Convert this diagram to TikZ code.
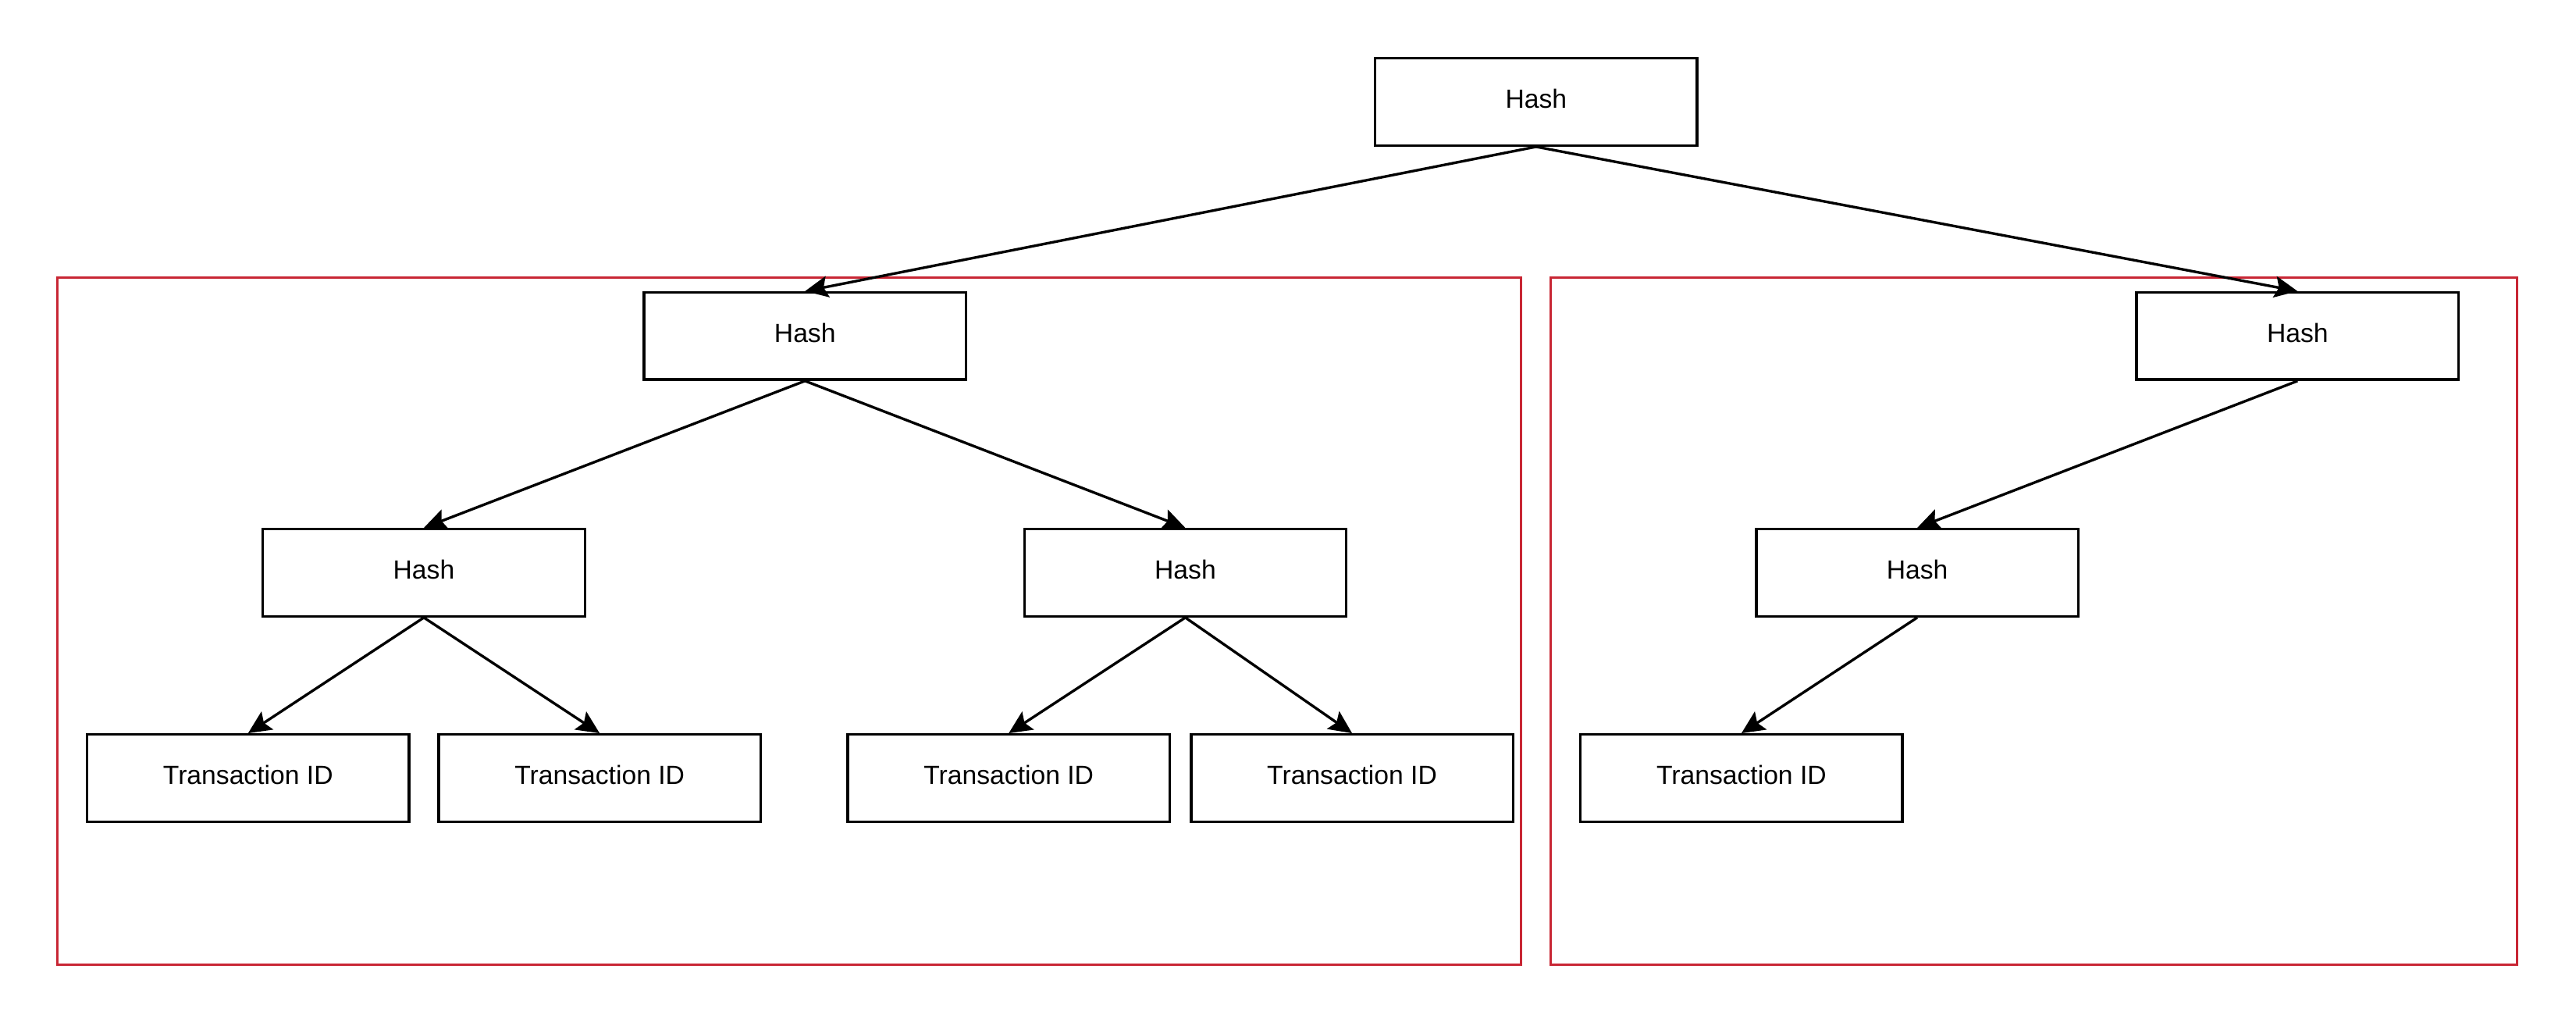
\documentclass[tikz,border=0pt]{standalone}
\usepackage{fontspec}
\setmainfont{Liberation Sans}
\usetikzlibrary{arrows.meta}
\definecolor{groupred}{RGB}{200,38,52}
\begin{document}
\begin{tikzpicture}[x=1pt,y=-1pt,
  box/.style={draw=black,line width=1.6pt,fill=white,minimum width=196pt,minimum height=53pt,inner sep=0pt,text height=11.6pt,text depth=4pt,font=\fontsize{16}{19}\selectfont},
  group/.style={draw=groupred,line width=1.5pt},
  link/.style={draw=black,line width=1.6pt,-{Stealth[length=14pt,width=13pt,inset=2.5pt]}}]
\useasboundingbox (0,0) rectangle (1568,624);
\draw[group] (35,169) rectangle (926,587);
\draw[group] (944,169) rectangle (1532,587);
\node[box] (top) at (935,62) {Hash};
\node[box] (l1) at (490,204.5) {Hash};
\node[box] (r1) at (1398.5,204.5) {Hash};
\node[box] (l2a) at (258,348.5) {Hash};
\node[box] (l2b) at (721.5,348.5) {Hash};
\node[box] (r2) at (1167,348.5) {Hash};
\node[box] (t1) at (151,473.5) {Transaction ID};
\node[box] (t2) at (365,473.5) {Transaction ID};
\node[box] (t3) at (614,473.5) {Transaction ID};
\node[box] (t4) at (823,473.5) {Transaction ID};
\node[box] (t5) at (1060,473.5) {Transaction ID};
\draw[link] (top.south) -- (l1.north);
\draw[link] (top.south) -- (r1.north);
\draw[link] (l1.south) -- (l2a.north);
\draw[link] (l1.south) -- (l2b.north);
\draw[link] (r1.south) -- (r2.north);
\draw[link] (l2a.south) -- (t1.north);
\draw[link] (l2a.south) -- (t2.north);
\draw[link] (l2b.south) -- (t3.north);
\draw[link] (l2b.south) -- (t4.north);
\draw[link] (r2.south) -- (t5.north);
\end{tikzpicture}
\end{document}
